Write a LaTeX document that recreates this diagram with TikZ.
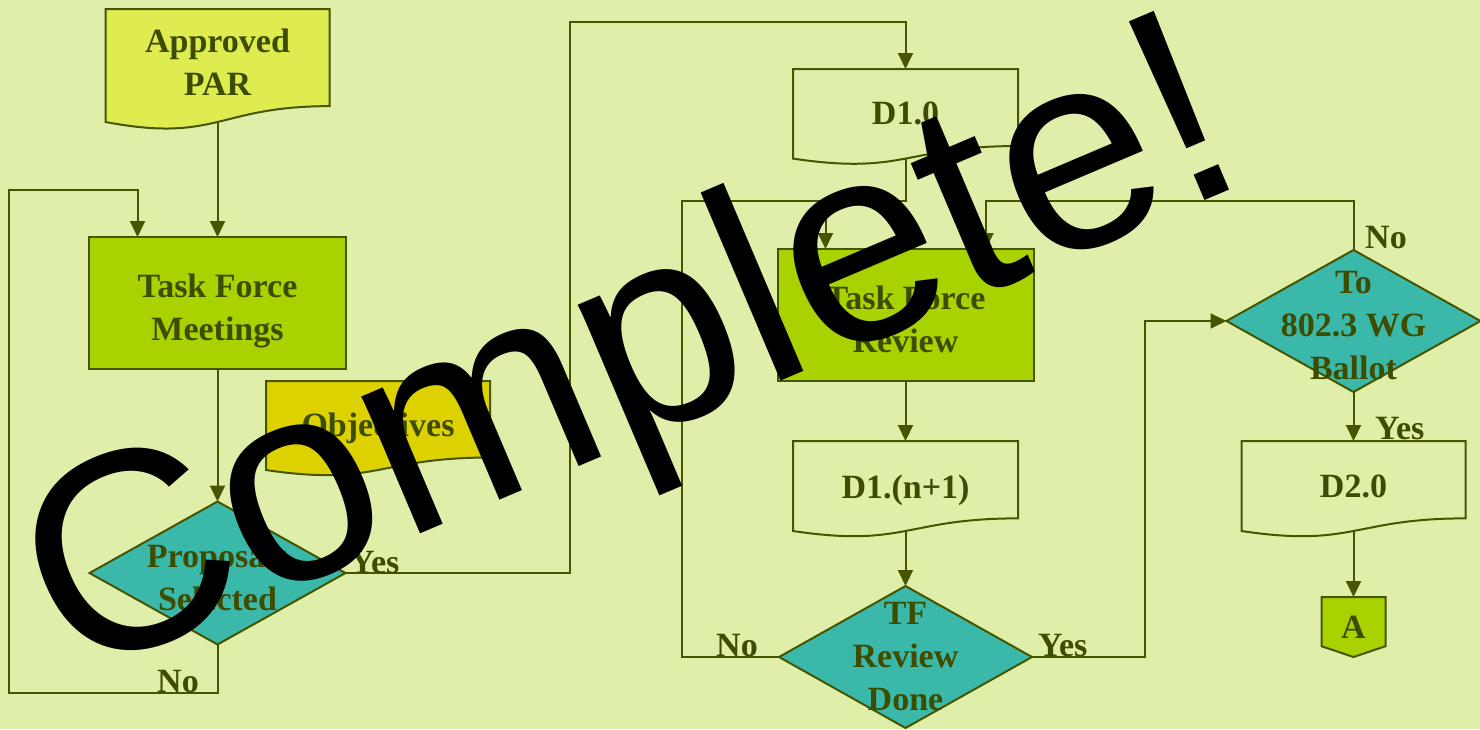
\documentclass[tikz,border=0pt]{standalone}
\usepackage{fontspec}
\setmainfont{Liberation Serif}
\newfontfamily\bigsans{Liberation Sans}
\usetikzlibrary{arrows.meta,calc,backgrounds}

\definecolor{bgc}{HTML}{DFEFAA}
\definecolor{parc}{HTML}{DEEC50}
\definecolor{tfc}{HTML}{A8D300}
\definecolor{objc}{HTML}{DDD100}
\definecolor{tealc}{HTML}{3AB9AA}
\definecolor{linec}{HTML}{465600}
\definecolor{txtc}{HTML}{3E4C00}

\tikzset{
  txtbase/.style={inner sep=0pt, outer sep=0pt, font=\fontsize{34}{43}\selectfont\bfseries, text=txtc, align=center},
  boxnode/.style={inner sep=0pt, outer sep=0pt, rectangle, draw=linec, line width=2pt, fill=tfc},
  ghost/.style={inner sep=0pt, outer sep=0pt, rectangle},
  conn/.style={draw=linec, line width=2pt},
  arr/.style={conn, -{Triangle[length=16pt,width=15pt]}},
  lbl/.style={font=\fontsize{34}{43}\selectfont\bfseries, text=txtc, inner sep=0pt},
  shapeline/.style={draw=linec, line width=2pt},
}

\newcommand{\docpath}[2]{%
  \path[shapeline, fill=#2] (#1.north west) -- (#1.north east)
    -- ($(#1.north east)!0.8596!(#1.south east)$)
    .. controls ($(#1.north)!0.8596!(#1.south)$) and ($(#1.north)!1.187!(#1.south)$) .. (#1.south west) -- cycle;}
\newcommand{\diapath}[1]{%
  \path[shapeline, fill=tealc] (#1.north) -- (#1.east) -- (#1.south) -- (#1.west) -- cycle;}
\newcommand{\offpath}[1]{%
  \path[shapeline, fill=tfc] (#1.north west) -- (#1.north east)
    -- ($(#1.north east)!0.82!(#1.south east)$) -- (#1.south)
    -- ($(#1.north west)!0.82!(#1.south west)$) -- cycle;}

\begin{document}
\begin{tikzpicture}[x=1pt,y=-1pt]
\useasboundingbox (0,0) rectangle (1480,729);

% shape nodes
\node[ghost, minimum width=224pt, minimum height=113pt] (par) at (217.5,65.5) {};
\node[boxnode, minimum width=257pt, minimum height=132pt] (tfm) at (217.5,303) {};
\node[ghost, minimum width=224pt, minimum height=89pt] (obj) at (378,425.5) {};
\node[ghost, minimum width=256pt, minimum height=143pt] (prop) at (217.5,573) {};
\node[ghost, minimum width=225pt, minimum height=89.6pt] (d10) at (905.5,113.8) {};
\node[boxnode, minimum width=256pt, minimum height=132pt] (tff) at (905.5,315) {};
\node[ghost, minimum width=225pt, minimum height=90pt] (dn1) at (905.5,486) {};
\node[ghost, minimum width=253pt, minimum height=142pt] (tfd) at (905.5,657) {};
\node[ghost, minimum width=254pt, minimum height=142pt] (ballot) at (1353.5,321) {};
\node[ghost, minimum width=224pt, minimum height=90pt] (d20) at (1353.5,486) {};
\node[ghost, minimum width=64pt, minimum height=60pt] (A) at (1353.5,627) {};

\begin{pgfonlayer}{background}
  \fill[bgc] (0,0) rectangle (1480,729);
  \docpath{par}{parc}
  \docpath{obj}{objc}
  \docpath{d10}{bgc}
  \docpath{dn1}{bgc}
  \docpath{d20}{bgc}
  \diapath{prop}
  \diapath{tfd}
  \diapath{ballot}
  \offpath{A}
\end{pgfonlayer}

% texts of the shapes
\node[txtbase] (part) at ($(par)+(0,-3.5)$) {Approved\\PAR};
\node[txtbase] (tfmt) at ($(tfm)+(0,7.5)$) {Task Force\\Meetings};
\node[txtbase] (objt) at ($(obj)+(0,3)$) {Objectives};
\node[txtbase] (propt) at ($(prop)+(0,4)$) {Proposals\\Selected};
\node[txtbase] (d10t) at (d10) {D1.0};
\node[txtbase] (tfft) at ($(tff)+(0,4)$) {Task Force\\Review};
\node[txtbase] (dn1t) at ($(dn1)+(0,4)$) {D1.(n+1)};
\node[txtbase] (tfdt) at (tfd) {TF\\Review\\Done};
\node[txtbase] (ballott) at ($(ballot)+(0,5)$) {To\\802.3 WG\\Ballot};
\node[txtbase] (d20t) at (d20) {D2.0};
\node[txtbase] (At) at (A) {A};

% corner coordinates
\coordinate (c1) at (570,22);
\coordinate (c2) at (9,693);
\coordinate (c3) at (137.5,190);
\coordinate (tfmin) at (137.5,237);
\coordinate (j1) at (825.5,201);
\coordinate (tffinL) at (825.5,249);
\coordinate (c4) at (682,201);
\coordinate (c5) at (986,201);
\coordinate (tffinR) at (986,249);
\coordinate (c6) at (1145,321);

% connectors
\draw[arr] (par.south) -- (tfm.north);
\draw[arr] (tfm.south) -- (prop.north);
\draw[arr] (prop.east) -| (c1) -| (d10.north);
\draw[arr] (prop.south) |- (c2) |- (c3) -- (tfmin);
\draw[arr] (d10.south) |- (j1) -- (tffinL);
\draw[conn] (tfd.west) -| (c4) -- (j1);
\draw[arr] (ballot.north) |- (c5) -- (tffinR);
\draw[arr] (tfd.east) -| (c6) -- (ballot.west);
\draw[arr] (tff.south) -- (dn1.north);
\draw[arr] (dn1.south) -- (tfd.north);
\draw[arr] (ballot.south) -- (d20.north);
\draw[arr] (d20.south) -- (A.north);

% labels
\node[lbl, anchor=base west] (yes1) at (350,573) {Yes};
\node[lbl, anchor=base west] (no1) at (157,692.5) {No};
\node[lbl, anchor=base west] (no2) at (716,656.5) {No};
\node[lbl, anchor=base west] (yes2) at (1038,656.5) {Yes};
\node[lbl, anchor=base west] (no3) at (1365,248.5) {No};
\node[lbl, anchor=base west] (yes3) at (1375,439.5) {Yes};

% overlay
\node[anchor=base west, inner sep=0pt, rotate=23, text=black, font=\bigsans\fontsize{282}{300}\selectfont] (done) at (71,682) {Complete!};
\end{tikzpicture}
\end{document}
